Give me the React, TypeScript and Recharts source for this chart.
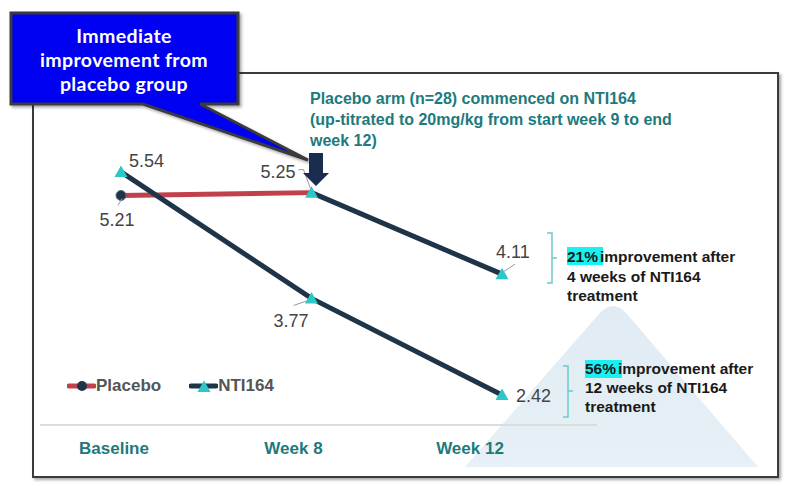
import React from 'react'
import { Line, LineChart, XAxis, YAxis } from 'recharts'

const categories = ['Baseline', 'Week 8', 'Week 12']
const placeboValues = [5.21, 5.25, null]
const placeboArmValues = [null, 5.25, 4.11]
const ntiValues = [5.54, 3.77, 2.42]
const legendNames = ['Placebo', 'NTI164']

const data = categories.map((name, i) => ({
  name,
  placebo: placeboValues[i],
  placeboArm: placeboArmValues[i],
  nti: ntiValues[i],
}))

const TEAL_TEXT = '#1d7a7c'
const NAVY = '#1e3448'
const RED = '#c0414b'
const MARKER = '#2cc8c8'
const LABEL = '#444'
const FONT = '"Liberation Sans", Arial, sans-serif'

// small per-category nudges for the x tick labels (the slide had them off-centre)
const tickShift = [-7, -18, -32]

function triangle(cx: number, cy: number, key: string) {
  return <path key={key} d={`M${cx},${cy - 6.5} L${cx + 6.5},${cy + 5} L${cx - 6.5},${cy + 5} Z`} fill={MARKER} />
}

function triangleDot(props: any) {
  const { cx, cy, index, value } = props
  if (value == null || cx == null || cy == null) return <g key={`t-${index}`} />
  return triangle(cx, cy, `t-${props.dataKey}-${index}`)
}

function placeboDot(props: any) {
  const { cx, cy, index, value } = props
  if (value == null || cx == null || cy == null || index !== 0) return <g key={`c-${index}`} />
  return <circle key={`c-${index}`} cx={cx} cy={cy} r={5} fill={NAVY} stroke="#5a6b7a" strokeWidth={1} />
}

function valueText(x: number, y: number, text: string, anchor: 'start' | 'middle' | 'end') {
  return (
    <text x={x} y={y} textAnchor={anchor} fontFamily={FONT} fontSize={18} fill={LABEL}>
      {text}
    </text>
  )
}

function leader(points: [number, number][]) {
  return <polyline points={points.map((p) => p.join(',')).join(' ')} fill="none" stroke="#9a9a9a" strokeWidth={1} />
}

function labelFor(series: string) {
  return (props: any) => {
    const { value, index } = props
    const x = props.x ?? props.viewBox?.x
    const y = props.y ?? props.viewBox?.y
    if (value == null || x == null || y == null) return null
    const text = Number(value).toFixed(2)
    let body: React.ReactNode = null
    if (series === 'placebo' && index === 0) {
      body = (
        <>
          {leader([[x + 1, y + 3], [x - 3, y + 10]])}
          {valueText(x - 4, y + 31, text, 'middle')}
        </>
      )
    } else if (series === 'placeboArm' && index === 1) {
      body = (
        <>
          {leader([[x - 13, y - 23], [x - 8, y - 23], [x - 1, y - 4]])}
          {valueText(x - 16, y - 15, text, 'end')}
        </>
      )
    } else if (series === 'placeboArm' && index === 2) {
      body = (
        <>
          {leader([[x + 13, y - 10], [x + 1, y - 2]])}
          {valueText(x - 6, y - 16, text, 'start')}
        </>
      )
    } else if (series === 'nti' && index === 0) {
      body = valueText(x + 8, y - 5, text, 'start')
    } else if (series === 'nti' && index === 1) {
      body = (
        <>
          {leader([[x - 18, y + 7], [x - 3, y + 2]])}
          {valueText(x - 38, y + 29, text, 'start')}
        </>
      )
    } else if (series === 'nti' && index === 2) {
      body = valueText(x + 14, y + 7, text, 'start')
    }
    return <g key={`${series}-${index}`}>{body}</g>
  }
}

function CategoryTick(props: any) {
  const { x, y, payload, index } = props
  return (
    <text
      x={x + (tickShift[index] ?? 0)}
      y={y + 29}
      textAnchor="middle"
      fontFamily={FONT}
      fontWeight="bold"
      fontSize={17}
      fill={TEAL_TEXT}
    >
      {payload.value}
    </text>
  )
}

function LegendBlock() {
  return (
    <div style={{ position: 'absolute', left: 67, top: 376, display: 'flex', gap: 28, alignItems: 'center' }}>
      {legendNames.map((name) => (
        <div key={name} style={{ display: 'flex', alignItems: 'center' }}>
          <svg width={29} height={14}>
            <line x1={2} y1={7} x2={27} y2={7} stroke={name === 'Placebo' ? RED : NAVY} strokeWidth={5} strokeLinecap="round" />
            {name === 'Placebo' ? <circle cx={15} cy={7} r={5} fill={NAVY} /> : triangle(15, 8, 'lg')}
          </svg>
          <span style={{ fontFamily: FONT, fontWeight: 'bold', fontSize: 17, color: '#555', lineHeight: '20px' }}>{name}</span>
        </div>
      ))}
    </div>
  )
}

function Background() {
  return (
    <svg width={800} height={495} style={{ position: 'absolute', left: 0, top: 0 }}>
      <defs>
        <linearGradient id="mount" x1="0" y1="0" x2="0" y2="1">
          <stop offset="0%" stopColor="#e1ebf3" />
          <stop offset="100%" stopColor="#e6f0f6" />
        </linearGradient>
        <filter id="frameShadow" x="-5%" y="-5%" width="110%" height="110%">
          <feDropShadow dx={2} dy={2} stdDeviation={1.5} floodColor="#000" floodOpacity={0.35} />
        </filter>
      </defs>
      <rect x={33} y={73} width={745} height={404} fill="#fff" stroke="#3a3a3a" strokeWidth={2} filter="url(#frameShadow)" />
      <path d="M465,467 L599,314 Q613,298 627,314 L758,467 Z" fill="url(#mount)" />
    </svg>
  )
}

function Overlay() {
  const noteLines = [
    'Placebo arm (n=28) commenced on NTI164',
    '(up-titrated to 20mg/kg from start week 9 to end',
    'week 12)',
  ]
  return (
    <svg width={800} height={495} style={{ position: 'absolute', left: 0, top: 0, pointerEvents: 'none' }}>
      <defs>
        <filter id="boxShadow" x="-10%" y="-10%" width="130%" height="130%">
          <feDropShadow dx={2} dy={2} stdDeviation={1.5} floodColor="#000" floodOpacity={0.35} />
        </filter>
      </defs>
      {/* callout box */}
      <path
        d="M11,13 H238 V104 H200 L308,160 L143,104 H11 Z"
        fill="#0000f2"
        stroke="#3a3a3a"
        strokeWidth={3}
        strokeLinejoin="miter"
        filter="url(#boxShadow)"
      />
      <g fontFamily="Lato, 'Open Sans', sans-serif" fontWeight="bold" fontSize={19.5} letterSpacing={0.4} fill="#fff" textAnchor="middle">
        <text x={124} y={43}>Immediate</text>
        <text x={124} y={67}>improvement from</text>
        <text x={124} y={91}>placebo group</text>
      </g>

      {/* switch note */}
      <g fontFamily={FONT} fontWeight="bold" fontSize={16} fill={TEAL_TEXT}>
        {noteLines.map((t, i) => (
          <text key={t} x={310} y={104 + i * 21}>
            {t}
          </text>
        ))}
      </g>
      <path d="M309,153 H323 V173 H329 L316,186 L303,173 H309 Z" fill="#1b2d4f" />

      {/* brackets */}
      <g fill="none" stroke="#6cc9c9" strokeWidth={1.5}>
        <path d="M547,233 H552 V283 H547 M552,258 H557" />
        <path d="M563,366 H568 V417 H563 M568,391 H573" />
      </g>

      {/* improvement notes */}
      <rect x={567} y={247} width={36} height={18} fill="#19f0f0" />
      <rect x={585} y={360} width={37} height={18} fill="#19f0f0" />
      <g fontFamily={FONT} fontWeight="bold" fontSize={15.5} fill="#1a1a1a">
        <text x={567} y={262}>
          <tspan>21%</tspan>
          <tspan dx={2}>improvement after</tspan>
        </text>
        <text x={567} y={282}>4 weeks of NTI164</text>
        <text x={567} y={301}>treatment</text>
        <text x={585} y={374}>
          <tspan>56%</tspan>
          <tspan dx={2}>improvement after</tspan>
        </text>
        <text x={585} y={393}>12 weeks of NTI164</text>
        <text x={585} y={412}>treatment</text>
      </g>
    </svg>
  )
}

export default function App() {
  return (
    <div style={{ position: 'absolute', left: 0, top: 0, width: 800, height: 495, background: '#fff' }}>
      <Background />
      <div style={{ position: 'absolute', left: 0, top: 0 }}>
        <LineChart width={800} height={495} data={data} margin={{ top: 139, right: 203, bottom: 30, left: 40 }}>
          <XAxis
            dataKey="name"
            padding={{ left: 81, right: 95 }}
            height={40}
            tickLine={false}
            tickSize={0}
            tickMargin={0}
            axisLine={{ stroke: '#dcdcdc', strokeWidth: 2 }}
            tick={<CategoryTick />}
            interval={0}
          />
          <YAxis hide domain={[2, 6]} type="number" />
          <Line
            name="Placebo"
            dataKey="placebo"
            stroke={RED}
            strokeWidth={5}
            dot={placeboDot}
            activeDot={false}
            label={labelFor('placebo')}
            isAnimationActive={false}
          />
          <Line
            name="Placebo arm"
            dataKey="placeboArm"
            stroke={NAVY}
            strokeWidth={5}
            dot={triangleDot}
            activeDot={false}
            label={labelFor('placeboArm')}
            isAnimationActive={false}
          />
          <Line
            name="NTI164"
            dataKey="nti"
            stroke={NAVY}
            strokeWidth={5}
            dot={triangleDot}
            activeDot={false}
            label={labelFor('nti')}
            isAnimationActive={false}
          />
        </LineChart>
      </div>
      <LegendBlock />
      <Overlay />
    </div>
  )
}
